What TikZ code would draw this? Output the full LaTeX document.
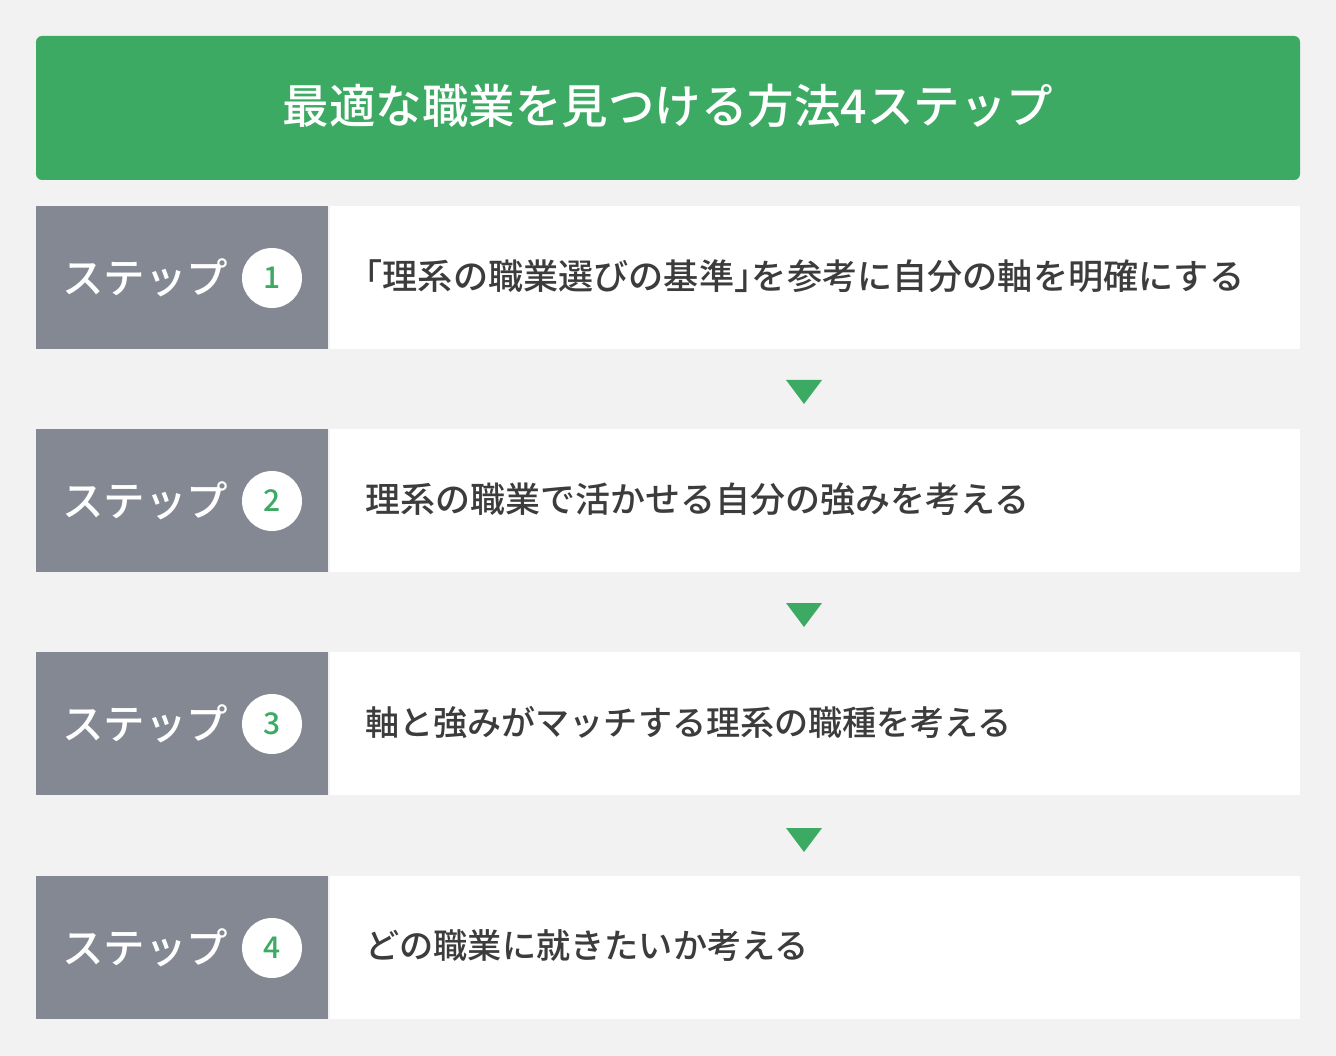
\documentclass[tikz,border=0pt]{standalone}
\usepackage{fontspec}
\usetikzlibrary{calc}
\setmainfont{Noto Sans CJK JP}[BoldFont={Noto Sans CJK JP Medium}]
\definecolor{bg}{HTML}{F2F2F2}
\definecolor{grn}{HTML}{3DAA64}
\definecolor{gry}{HTML}{838892}
\definecolor{txt}{HTML}{3C3C3C}
\tikzset{
  titlebox/.style={fill=grn, rounded corners=6pt, minimum width=1264pt, minimum height=144pt, inner sep=0pt},
  titletext/.style={inner sep=0pt, text=white, font=\fontsize{46.5}{50}\selectfont\bfseries},
  graybox/.style={fill=gry, minimum width=292pt, minimum height=143pt, inner sep=0pt, anchor=north west},
  whitebox/.style={fill=white, minimum width=970pt, minimum height=143pt, inner sep=0pt, anchor=north west},
  steplabel/.style={anchor=west, inner sep=0pt, text=white, font=\fontsize{41.5}{46}\selectfont\bfseries},
  numcircle/.style={circle, fill=white, minimum size=60pt, inner sep=0pt, text=grn, font=\fontsize{30}{34}\selectfont\bfseries},
  bodytext/.style={anchor=west, inner sep=0pt, text=txt},
  tri/.style={fill=grn}
}
\begin{document}
\begin{tikzpicture}[x=1pt,y=-1pt]
\fill[bg] (0,0) rectangle (1336,1056);
\useasboundingbox (0,0) rectangle (1336,1056);
\node[titlebox] (title) at (668,108) {};
\node[titletext] (titlet) at ($(title.center)+(0,-2)$) {最適な職業を見つける方法4ステップ};
\foreach \i/\y/\s/\t in {1/206/35.15/{\kern-0.5em「理系の職業選びの基準」\kern-0.5em を参考に自分の軸を明確にする},
                      2/429/35/理系の職業で活かせる自分の強みを考える,
                      3/652/34.1/軸と強みがマッチする理系の職種を考える,
                      4/876/34.2/どの職業に就きたいか考える}{
  \node[graybox] (g\i) at (36,\y) {};
  \node[whitebox] (w\i) at (330,\y) {};
  \node[steplabel] (s\i) at ($(36,\y)+(26,72)$) {ステップ};
  \node[numcircle] (c\i) at ($(36,\y)+(236,72)$) {\i};
  \node[bodytext, font=\fontsize{\s}{40}\selectfont\bfseries] (b\i) at ($(36,\y)+(329,70)$) {\t};
}
\foreach \y/\n in {380/1,603/2,828/3}{
  \coordinate (t\n) at (804,\y);
  \fill[tri] ($(t\n)+(-18,0)$) -- ($(t\n)+(18,0)$) -- ($(t\n)+(0,24)$) -- cycle;
}
\end{tikzpicture}
\end{document}
